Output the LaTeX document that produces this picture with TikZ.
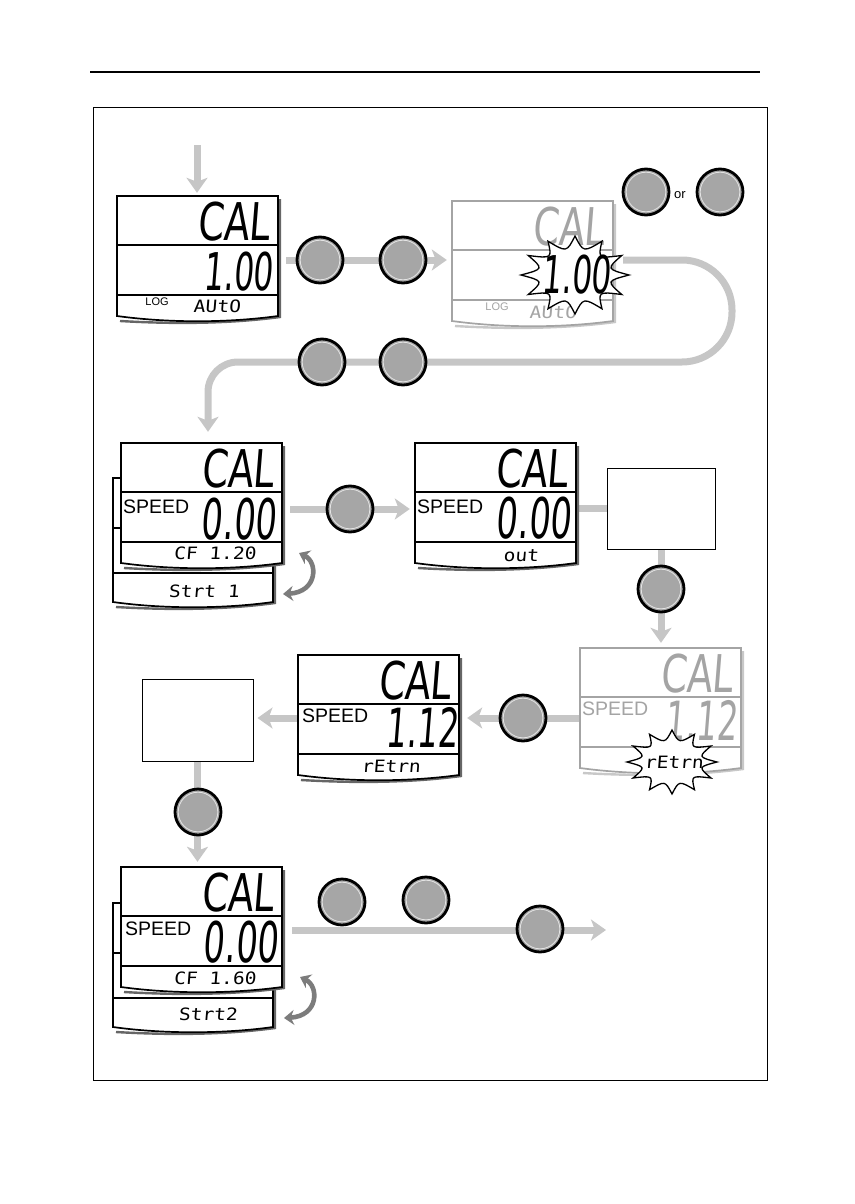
\documentclass[tikz,border=0pt]{standalone}
\usepackage{fontspec}
\setmainfont{Liberation Sans}
\newfontfamily\segfont[FakeSlant=0.08,FakeStretch=0.72]{DejaVu Sans}
\newfontfamily\segnum[FakeSlant=0.08,FakeStretch=0.6]{DejaVu Sans}
\newfontfamily\segsmall[FakeSlant=0.08,FakeStretch=1.15]{DejaVu Sans Mono}
\usetikzlibrary{arrows.meta,backgrounds}

\definecolor{flowgray}{HTML}{C6C6C6}
\definecolor{dimgray}{HTML}{A4A4A4}
\definecolor{btnfill}{HTML}{A6A6A6}
\definecolor{swapgray}{HTML}{7C7C7C}

\tikzset{
  flow/.style={flowgray, line width=7pt},
  flowarrow/.style={flow, -{Stealth[length=15pt,width=21pt,inset=4pt]}},
  btn/.style={circle, inner sep=0pt, minimum size=46pt, fill=btnfill, draw=black, line width=2.8pt,
    path picture={\draw[white!70!btnfill, line width=0.8pt] (path picture bounding box.center) circle (19.8pt);}},
  blank/.style={draw=black, line width=1pt, fill=white, inner sep=0pt},
  bigseg/.style={font=\segfont\fontsize{52}{52}\selectfont, inner sep=0pt, text depth=0pt},
  numseg/.style={font=\segnum\fontsize{#1}{#1}\selectfont, inner sep=0pt, text depth=0pt},
  smallseg/.style={font=\segsmall\fontsize{17}{17}\selectfont, inner sep=0pt, text depth=0pt, anchor=base},
  speedtxt/.style={font=\fontsize{19.5}{20}\selectfont, inner sep=0pt, text depth=0pt},
  logtxt/.style={font=\fontsize{11}{11}\selectfont, inner sep=0pt},
  swaparrow/.style={swapgray, line width=4.6pt, {Stealth[length=10pt,width=15pt]}-{Stealth[length=10pt,width=15pt]}},
  % one LCD panel, origin at its top left corner
  pics/display/.style={code={
    \draw[#1!60, line width=2.4pt] (163,3) -- (163,121) .. controls (110,128) and (55,128) .. (3,125);
    \draw[#1, line width=1.7pt, fill=white] (0,0) -- (161,0) -- (161,120) .. controls (110,127) and (51,127) .. (0,120) -- cycle;
    \draw[#1, line width=1.3pt] (0,49) -- (161,49) (0,99) -- (161,99);
    \node[minimum width=161pt, minimum height=124pt, inner sep=0pt] (-box) at (80.5,62) {};
    \node[bigseg, text=#1, anchor=base east] (-cal) at (153,44) {CAL};
  }},
  % the panel lying behind
  pics/backcard/.style={code={
    \draw[black!60, line width=2.4pt] (162,3) -- (162,125) .. controls (110,132) and (55,132) .. (3,129);
    \draw[line width=1.7pt, fill=white] (0,0) -- (160,0) -- (160,124) .. controls (110,131) and (50,131) .. (0,124) -- cycle;
    \draw[line width=1.3pt] (0,50) -- (160,50) (0,95) -- (160,95);
  }},
  % flashing outline
  pics/burst/.style 2 args={code={
    \draw[line width=1.3pt, fill=white] (#1,0)
      \foreach \k in {1,...,12}{
        .. controls ({0.6*#1*cos((\k-0.5)*30)},{0.6*#2*sin((\k-0.5)*30)})
        .. ({#1*cos(\k*30)},{#2*sin(\k*30)})
      } -- cycle;
  }}
}

\begin{document}
\begin{tikzpicture}[x=1pt, y=-1pt]
  \useasboundingbox (0,0) rectangle (854,1204);

  % Page rule and frame
  \draw[line width=1.2pt] (90,72) -- (760,72);
  \draw[line width=1pt] (93,108) rectangle (767,1080);

  % First row
  \pic (d1) at (117,196) {display=black};
  \node[numseg=52, anchor=base east] (d1-val) at (273,290) {1.00};
  \node[logtxt] (d1-log) at (157,302) {LOG};
  \node[smallseg] (d1-mode) at (217,312) {AUtO};

  \pic (d2) at (452,201) {display=dimgray};
  \node[logtxt, text=dimgray] (d2-log) at (497,307) {LOG};
  \node[smallseg, text=dimgray] (d2-mode) at (553,318) {AUtO};
  \pic (d2flash) at (575,275) {burst={54}{39}};
  \node[numseg=52, anchor=base east] (d2-val) at (611,293) {1.00};

  \node[btn] (b1) at (320,260) {};
  \node[btn] (b2) at (403,260) {};
  \node[btn] (or1) at (646,192) {};
  \node[font=\fontsize{13}{13}\selectfont, inner sep=0pt] (ortxt) at (680,195) {or};
  \node[btn] (or2) at (720,192) {};
  \node[btn] (b3) at (322,362) {};
  \node[btn] (b4) at (403,362) {};

  % Second row
  \pic (d3back) at (113,478) {backcard};
  \pic (d3) at (121,443) {display=black};
  \node[speedtxt, anchor=base west] (d3-lbl) at (123,513) {SPEED};
  \node[numseg=56, anchor=base east] (d3-val) at (276,539) {0.00};
  \node[smallseg] (d3-cf) at (215,559) {CF 1.20};
  \node[smallseg] (d3-strt) at (204,597) {Strt 1};
  \draw[swaparrow] (299,553) .. controls (318,562) and (318,592) .. (283,594);

  \node[btn] (b5) at (350,509) {};
  \pic (d4) at (415,443) {display=black};
  \node[speedtxt, anchor=base west] (d4-lbl) at (417,513) {SPEED};
  \node[numseg=56, anchor=base east] (d4-val) at (571,538) {0.00};
  \node[smallseg] (d4-out) at (521,561) {out};
  \node[blank, minimum width=108pt, minimum height=81pt] (box1) at (661,508.5) {};
  \node[btn] (b6) at (661,589) {};

  % Third row
  \pic (d5) at (580,648) {display=dimgray};
  \node[speedtxt, text=dimgray, anchor=base west] (d5-lbl) at (582,715) {SPEED};
  \node[numseg=54, text=dimgray, anchor=base east] (d5-val) at (737,740) {1.12};
  \pic (d5flash) at (672,762) {burst={45}{32}};
  \node[smallseg] (d5-ret) at (674,768) {rEtrn};
  \node[btn] (b7) at (523,718) {};

  \pic (d6) at (298,655) {display=black};
  \node[speedtxt, anchor=base west] (d6-lbl) at (302,722) {SPEED};
  \node[numseg=54, anchor=base east] (d6-val) at (458,747) {1.12};
  \node[smallseg] (d6-ret) at (391,772) {rEtrn};
  \node[blank, minimum width=111pt, minimum height=82pt] (box2) at (197.5,720) {};
  \node[btn] (b8) at (198,812) {};

  % Last row
  \pic (d7back) at (113,903) {backcard};
  \pic (d7) at (121,867) {display=black};
  \node[speedtxt, anchor=base west] (d7-lbl) at (125,935) {SPEED};
  \node[numseg=56, anchor=base east] (d7-val) at (278,962) {0.00};
  \node[smallseg] (d7-cf) at (215,984) {CF 1.60};
  \node[smallseg] (d7-strt) at (208,1020) {Strt2};
  \draw[swaparrow] (300,977) .. controls (319,986) and (319,1016) .. (284,1018);

  \node[btn] (b9) at (342,902) {};
  \node[btn] (b10) at (426,900) {};
  \node[btn] (b11) at (540,929) {};
  \coordinate (exit) at (606,930);
  \coordinate (entry) at (197,145);

  % Grey flow lines
  \begin{pgfonlayer}{background}
    \draw[flowarrow, shorten >=3pt] (entry) -- (entry |- d1-box.north);
    \draw[flowarrow, shorten <=8pt, shorten >=5pt] (d1-box.east |- b1) -- (d2-box.west |- b1);
    \draw[flowarrow, rounded corners=50pt, shorten <=10pt, shorten >=11pt]
      (d2-box.east |- b1) -- (732,260) -- (732,362)
      [rounded corners=30pt] -- (208,362) -- (208,0 |- d3-box.north);
    \draw[flowarrow, shorten <=8pt, shorten >=5pt] (d3-box.east |- b5) -- (d4-box.west |- b5);
    \draw[flow] (d4-box.east |- box1) -- (box1);
    \draw[flowarrow, shorten >=5pt] (box1) -- (box1 |- d5-box.north);
    \draw[flowarrow, shorten >=8pt] (d5-box.west |- b7) -- (d6-box.east |- b7);
    \draw[flowarrow, shorten >=4pt] (d6-box.west |- b7) -- (box2.east |- b7);
    \draw[flowarrow, shorten >=5pt] (box2) -- (box2 |- d7-box.north);
    \draw[flowarrow, shorten <=10pt] (d7-box.east |- exit) -- (exit);
  \end{pgfonlayer}
\end{tikzpicture}
\end{document}
